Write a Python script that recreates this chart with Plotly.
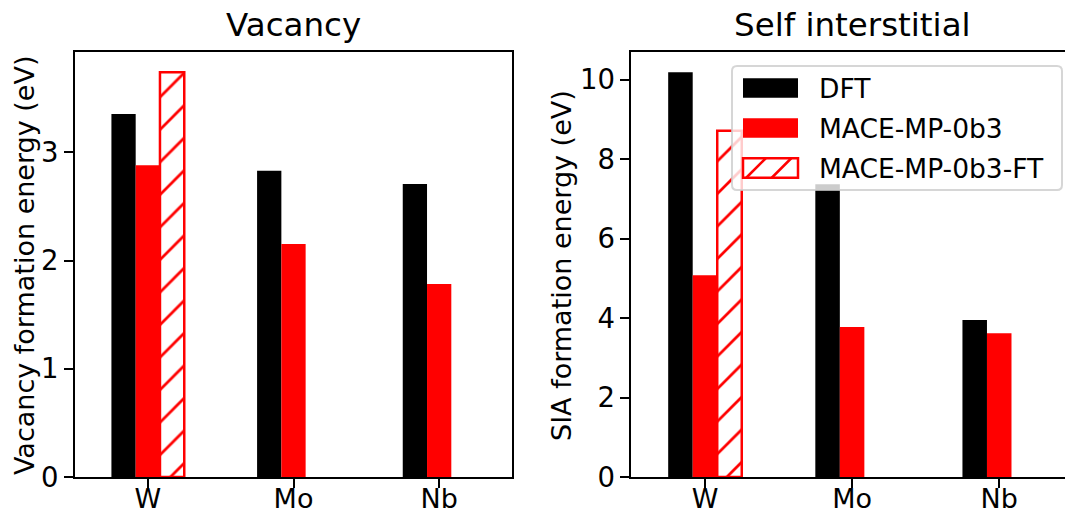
import plotly.graph_objects as go

# ---------------- data ----------------
elements = ["W", "Mo", "Nb"]
series_names = ["DFT", "MACE-MP-0b3", "MACE-MP-0b3-FT"]

vac_dft = [3.355, 2.83, 2.708]
vac_mace = [2.88, 2.153, 1.784]
vac_ft = [3.74, None, None]

sia_dft = [10.19, 7.37, 3.95]
sia_mace = [5.08, 3.775, 3.62]
sia_ft = [8.72, None, None]

vac_ticks = [0, 1, 2, 3]
sia_ticks = [0, 2, 4, 6, 8, 10]

# ---------------- layout helpers ----------------
W, H = 1065, 512
FONT = "DejaVu Sans"
TICK_FS = 27.5
XTICK_FS = 27
LABEL_FS = 27
LEG_FS = 26.5
TITLE_FS = 32.5


def fx(px):
    return px / W


def fy(py):
    return 1 - py / H


fig = go.Figure()

hatch = dict(shape="/", fgcolor="#ff0000", bgcolor="white", size=23,
             solidity=0.12, fillmode="replace")

for (dft, mace, ft, xa, ya) in [(vac_dft, vac_mace, vac_ft, "x", "y"),
                                 (sia_dft, sia_mace, sia_ft, "x2", "y2")]:
    fig.add_trace(go.Bar(x=elements, y=dft, name=series_names[0],
                         marker=dict(color="black", line=dict(width=0)),
                         xaxis=xa, yaxis=ya, showlegend=False))
    fig.add_trace(go.Bar(x=elements, y=mace, name=series_names[1],
                         marker=dict(color="#ff0000", line=dict(width=0)),
                         xaxis=xa, yaxis=ya, showlegend=False))
    fig.add_trace(go.Bar(x=elements, y=ft, name=series_names[2],
                         marker=dict(color="white", pattern=hatch,
                                     line=dict(color="#ff0000", width=2.5)),
                         xaxis=xa, yaxis=ya, showlegend=False))

ydom = [fy(477), fy(52)]
axis_common = dict(showgrid=False, zeroline=False, showline=True,
                   linecolor="black", linewidth=2, ticks="outside",
                   ticklen=9, tickwidth=2, tickcolor="black", automargin=False)
yfont = dict(tickfont=dict(family=FONT, size=TICK_FS, color="black"))
xfont = dict(tickfont=dict(family=FONT, size=XTICK_FS, color="black"),
             ticklabelstandoff=-12)

fig.update_layout(
    width=W, height=H,
    margin=dict(l=0, r=0, t=0, b=0, autoexpand=False),
    paper_bgcolor="white", plot_bgcolor="white",
    barmode="group", bargap=0.5, bargroupgap=0,
    showlegend=False,
    font=dict(family=FONT, size=TICK_FS, color="black"),
    xaxis=dict(domain=[fx(75), fx(512)], range=[-0.5, 2.5], mirror=True,
               anchor="y", **axis_common, **xfont),
    yaxis=dict(domain=ydom, range=[0, 3.927], tickvals=vac_ticks, mirror=True,
               anchor="x", **axis_common, **yfont),
    xaxis2=dict(domain=[fx(631.4), 1.0], range=[-0.5, 2.447], mirror=True,
                anchor="y2", **axis_common, **xfont),
    yaxis2=dict(domain=ydom, range=[0, 10.70], tickvals=sia_ticks, mirror=False,
                anchor="x2", **axis_common, **yfont),
)

annotations = [
    dict(text="Vacancy", x=fx(293.5), y=fy(25), xref="paper", yref="paper",
         xanchor="center", yanchor="middle", showarrow=False,
         font=dict(family=FONT, size=TITLE_FS, color="black")),
    dict(text="Self interstitial", x=fx(852), y=fy(25), xref="paper", yref="paper",
         xanchor="center", yanchor="middle", showarrow=False,
         font=dict(family=FONT, size=TITLE_FS, color="black")),
    dict(text="Vacancy formation energy (eV)", x=fx(24), y=fy(266),
         xref="paper", yref="paper", xanchor="center", yanchor="middle",
         textangle=-90, showarrow=False,
         font=dict(family=FONT, size=LABEL_FS, color="black")),
    dict(text="SIA formation energy (eV)", x=fx(561), y=fy(266),
         xref="paper", yref="paper", xanchor="center", yanchor="middle",
         textangle=-90, showarrow=False,
         font=dict(family=FONT, size=LABEL_FS, color="black")),
]

# ---------------- custom legend (matplotlib-like) ----------------
shapes = []
bx0, bx1, by0, by1, r = 732, 1062, 66, 190, 5
path = (f"M{fx(bx0 + r)},{fy(by0)} L{fx(bx1 - r)},{fy(by0)} "
        f"Q{fx(bx1)},{fy(by0)} {fx(bx1)},{fy(by0 + r)} "
        f"L{fx(bx1)},{fy(by1 - r)} Q{fx(bx1)},{fy(by1)} {fx(bx1 - r)},{fy(by1)} "
        f"L{fx(bx0 + r)},{fy(by1)} Q{fx(bx0)},{fy(by1)} {fx(bx0)},{fy(by1 - r)} "
        f"L{fx(bx0)},{fy(by0 + r)} Q{fx(bx0)},{fy(by0)} {fx(bx0 + r)},{fy(by0)} Z")
shapes.append(dict(type="path", path=path, xref="paper", yref="paper",
                   fillcolor="rgba(255,255,255,0.8)",
                   line=dict(color="rgba(204,204,204,0.8)", width=2),
                   layer="above"))

px0, px1, ph = 743, 798, 19.5
row_centers = [88, 128, 168]
fills = ["black", "#ff0000", "white"]
for yc, fc, name in zip(row_centers, fills, series_names):
    y0, y1 = yc - ph / 2, yc + ph / 2
    if fc == "white":
        for c in [924, 949.5]:
            xa = max(px0, c - y1)
            xb = min(px1, c - y0)
            shapes.append(dict(type="line", xref="paper", yref="paper",
                               x0=fx(xa), y0=fy(c - xa), x1=fx(xb), y1=fy(c - xb),
                               line=dict(color="#ff0000", width=2.5), layer="above"))
        shapes.append(dict(type="rect", xref="paper", yref="paper",
                           x0=fx(px0), x1=fx(px1), y0=fy(y1), y1=fy(y0),
                           fillcolor="rgba(0,0,0,0)",
                           line=dict(color="#ff0000", width=2.5), layer="above"))
    else:
        shapes.append(dict(type="rect", xref="paper", yref="paper",
                           x0=fx(px0), x1=fx(px1), y0=fy(y1), y1=fy(y0),
                           fillcolor=fc, line=dict(width=0), layer="above"))
    annotations.append(dict(text=name, x=fx(817), y=fy(yc), xref="paper",
                            yref="paper", xanchor="left", yanchor="middle",
                            showarrow=False,
                            font=dict(family=FONT, size=LEG_FS, color="black")))

fig.update_layout(annotations=annotations, shapes=shapes)

fig.write_html("out.html")
